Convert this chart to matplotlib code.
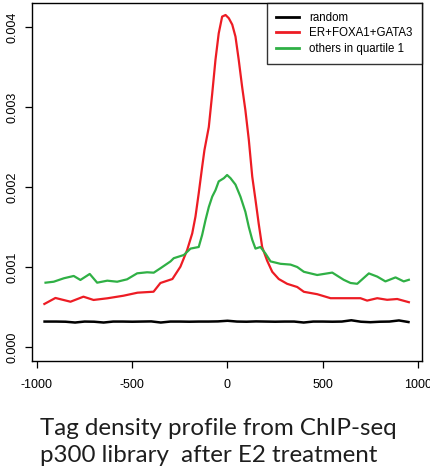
import matplotlib
matplotlib.use("Agg")
import matplotlib.pyplot as plt

# tag density profiles
x_red = [-961, -903, -824, -756, -703, -630, -546, -472, -388, -352, -289, -247,
         -212, -185, -168, -151, -133, -121, -98, -80, -63, -46, -28, -10, 7, 25,
         42, 59, 77, 94, 112, 130, 147, 164, 182, 208, 235, 269, 313, 366, 401,
         471, 541, 628, 698, 733, 786, 838, 891, 952]
y_red = [0.000538, 0.000613, 0.000566, 0.000629, 0.000588, 0.000609, 0.000641,
         0.000679, 0.000691, 0.000800, 0.000850, 0.001004, 0.00121, 0.00142,
         0.00163, 0.00192, 0.00225, 0.00246, 0.00275, 0.00317, 0.00359, 0.00392,
         0.00413, 0.00415, 0.00411, 0.00403, 0.00388, 0.00359, 0.00325, 0.00296,
         0.00259, 0.00213, 0.00184, 0.00154, 0.00125, 0.00108, 0.00094, 0.00085,
         0.00079, 0.00075, 0.00069, 0.00066, 0.00061, 0.00061, 0.00061, 0.00058,
         0.00061, 0.00059, 0.00060, 0.00056]

x_green = [-955, -912, -859, -807, -772, -723, -684, -631, -579, -527, -474, -422,
           -387, -352, -299, -282, -229, -194, -151, -133, -115, -98, -80, -63,
           -46, -19, -2, 16, 42, 68, 94, 112, 130, 147, 173, 199, 226, 278, 331,
           366, 401, 471, 550, 610, 646, 681, 742, 786, 829, 882, 925, 952]
y_green = [0.000804, 0.000816, 0.000859, 0.000888, 0.000838, 0.000913, 0.000804,
           0.000829, 0.000816, 0.000846, 0.000921, 0.000934, 0.000929, 0.000984,
           0.00107, 0.00111, 0.00115, 0.00123, 0.00125, 0.00140, 0.00159, 0.00175,
           0.00188, 0.00196, 0.00207, 0.00211, 0.00215, 0.00211, 0.00203, 0.00188,
           0.00169, 0.00150, 0.00134, 0.00123, 0.00125, 0.00117, 0.00107, 0.00104,
           0.00103, 0.00100, 0.00094, 0.00090, 0.00093, 0.00084, 0.00080, 0.00079,
           0.00092, 0.00088, 0.00082, 0.00087, 0.00082, 0.00084]

x_black = [-960, -900, -850, -800, -750, -700, -650, -600, -550, -500, -450, -400,
           -350, -300, -250, -200, -150, -100, -50, 0, 50, 100, 150, 200, 250,
           300, 350, 400, 450, 500, 550, 600, 650, 700, 750, 800, 850, 900, 950]
y_black = [0.000318, 0.000318, 0.000316, 0.000306, 0.000318, 0.000316, 0.000306,
           0.000318, 0.000318, 0.000316, 0.000318, 0.000320, 0.000306, 0.000318,
           0.000318, 0.000316, 0.000318, 0.000318, 0.000320, 0.000328, 0.000318,
           0.000316, 0.000320, 0.000318, 0.000316, 0.000318, 0.000318, 0.000306,
           0.000318, 0.000318, 0.000316, 0.000318, 0.000334, 0.000316, 0.000310,
           0.000316, 0.000318, 0.000332, 0.000312]

labels = ["random", "ER+FOXA1+GATA3", "others in quartile 1"]
x_ticks = [-1000, -500, 0, 500, 1000]
y_ticks = [0.000, 0.001, 0.002, 0.003, 0.004]
y_ticklabels = ["0.000", "0.001", "0.002", "0.003", "0.004"]
caption = "Tag density profile from ChIP-seq\np300 library  after E2 treatment"

W, H = 431, 476
fig = plt.figure(figsize=(W / 100, H / 100), dpi=100)
ax = fig.add_axes([32 / W, 1 - 361 / H, (422 - 32) / W, (361 - 3) / H])

ax.plot(x_black, y_black, color="black", lw=1.8, label=labels[0])
ax.plot(x_red, y_red, color="#ed1c24", lw=1.6, label=labels[1])
ax.plot(x_green, y_green, color="#2fb045", lw=1.6, label=labels[2])

ax.set_xlim(-1026, 1021)
ax.set_ylim(-0.000175, 0.0043)
ax.set_xticks(x_ticks)
ax.set_xticklabels([str(v) for v in x_ticks], family="Liberation Sans", fontsize=9)
ax.set_yticks(y_ticks)
ax.set_yticklabels(y_ticklabels, family="Liberation Sans", fontsize=9,
                   rotation=90, va="center")
ax.tick_params(axis="x", direction="out", length=5, width=0.9, pad=8)
ax.tick_params(axis="y", direction="out", length=5, width=0.9, pad=5)
for s in ax.spines.values():
    s.set_linewidth(1.0)

leg = ax.legend(loc="upper right", borderaxespad=0, fancybox=False,
                prop={"family": "Liberation Sans", "size": 8.3},
                handlelength=2.0, handletextpad=0.9, labelspacing=0.28,
                borderpad=0.8)
leg.get_frame().set_edgecolor("black")
leg.get_frame().set_linewidth(1.0)
for line in leg.get_lines():
    line.set_linewidth(2)

fig.text(40 / W, 1 - 442 / H, caption, ha="left", va="center",
         multialignment="left", family="Lato", fontsize=17.4,
         color="#1e1e1e", linespacing=1.4)

fig.savefig("out.png", dpi=100)
